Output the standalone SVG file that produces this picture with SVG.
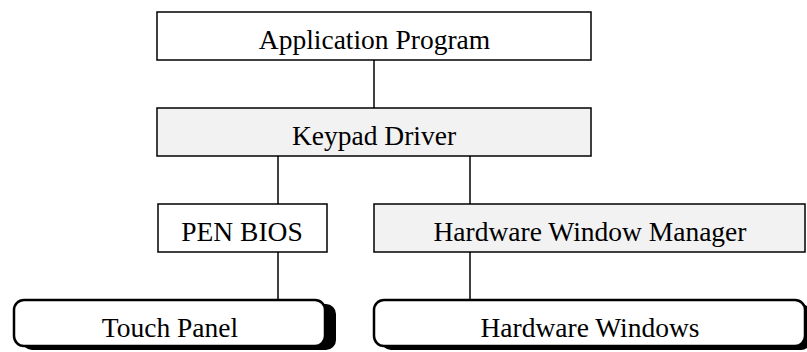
<svg xmlns="http://www.w3.org/2000/svg" width="807" height="352" viewBox="0 0 807 352">
<style>
.box{fill:#ffffff;stroke:#000;stroke-width:1.5}
.gray{fill:#f2f2f2;stroke:#000;stroke-width:1.5}
.rbox{fill:#ffffff;stroke:#000;stroke-width:2.5}
.shadow{fill:#000;stroke:none}
.lbl{font-family:"Liberation Serif","Times New Roman",serif;font-size:27.5px;text-anchor:middle;fill:#000}
.conn{stroke:#000;stroke-width:1.5;fill:none}
</style>
<rect width="807" height="352" fill="#ffffff"/>
<g id="connectors">
<line class="conn" x1="374" y1="60" x2="374" y2="108"/>
<line class="conn" x1="278" y1="156" x2="278" y2="204"/>
<line class="conn" x1="470" y1="156" x2="470" y2="204"/>
<line class="conn" x1="278" y1="252" x2="278" y2="300"/>
<line class="conn" x1="470" y1="252" x2="470" y2="300"/>
</g>
<g id="app">
<rect class="box" x="157" y="12" width="434" height="48"/>
<text class="lbl" x="374.5" y="49">Application Program</text>
</g>
<g id="keypad">
<rect class="gray" x="157" y="108" width="434" height="48"/>
<text class="lbl" x="374" y="145">Keypad Driver</text>
</g>
<g id="penbios">
<rect class="box" x="158" y="204" width="169" height="48"/>
<text class="lbl" x="242" y="241">PEN BIOS</text>
</g>
<g id="hwm">
<rect class="gray" x="374" y="204" width="431" height="48"/>
<text class="lbl" x="590" y="241">Hardware Window Manager</text>
</g>
<g id="touch">
<rect class="shadow" x="22" y="304" width="314" height="46" rx="10"/>
<rect class="rbox" x="14" y="300" width="311" height="46" rx="10"/>
<text class="lbl" x="170" y="337">Touch Panel</text>
</g>
<g id="hwwin">
<rect class="shadow" x="381" y="304" width="430" height="46" rx="10"/>
<rect class="rbox" x="374" y="300" width="431" height="46" rx="10"/>
<text class="lbl" x="590" y="337">Hardware Windows</text>
</g>
</svg>
